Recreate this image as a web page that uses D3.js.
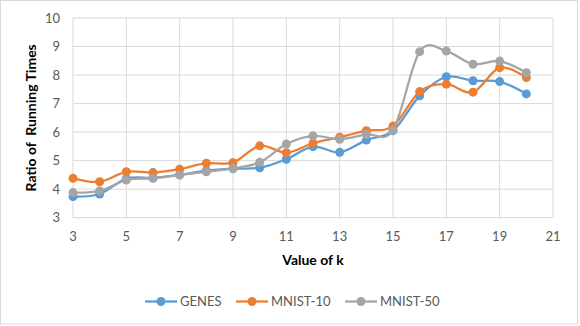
<!DOCTYPE html>
<html>
<head>
<meta charset="utf-8">
<script src="https://cdn.jsdelivr.net/npm/d3@7"></script>
<style>
  body { margin: 0; background: #fff; }
  svg { display: block; font-family: Lato, "Liberation Sans", sans-serif; }
</style>
</head>
<body>
<div id="chart"></div>
<script>
const kValues = [3, 4, 5, 6, 7, 8, 9, 10, 11, 12, 13, 14, 15, 16, 17, 18, 19, 20]
const genes = [3.74, 3.83, 4.37, 4.40, 4.50, 4.65, 4.72, 4.75, 5.05, 5.49, 5.29, 5.72, 6.05, 7.27, 7.94, 7.80, 7.77, 7.34]
const mnist10 = [4.38, 4.26, 4.61, 4.58, 4.70, 4.91, 4.93, 5.52, 5.28, 5.61, 5.82, 6.05, 6.21, 7.42, 7.68, 7.40, 8.26, 7.91]
const mnist50 = [3.88, 3.94, 4.32, 4.38, 4.50, 4.61, 4.73, 4.94, 5.58, 5.87, 5.75, 5.92, 6.07, 8.82, 8.84, 8.38, 8.49, 8.08]
const seriesNames = ['GENES', 'MNIST-10', 'MNIST-50']
const xTicks = [3, 5, 7, 9, 11, 13, 15, 17, 19, 21]
const yTicks = [3, 4, 5, 6, 7, 8, 9, 10]

const w = 580
const h = 326
const plot = { left: 73, right: 553, top: 18, bottom: 217.7 }
const colors = ['#5B9BD5', '#ED7D31', '#A5A5A5']
const textColor = '#595959'

const series = seriesNames.map((name, i) => ({
  name: name,
  color: colors[i],
  values: [genes, mnist10, mnist50][i].map((v, j) => ({ k: kValues[j], v: v }))
}))

const x = d3.scaleLinear().domain([3, 21]).range([plot.left, plot.right])
const y = d3.scaleLinear().domain([3, 10]).range([plot.bottom, plot.top])

const svg = d3.select('#chart')
  .append('svg')
  .attr('width', w)
  .attr('height', h)

// outer chart border
svg.append('rect')
  .attr('x', 0.5)
  .attr('y', 0.5)
  .attr('width', w - 3)
  .attr('height', h - 2.5)
  .attr('fill', '#fff')
  .attr('stroke', '#D9D9D9')

// gridlines
svg.append('g')
  .selectAll('line')
  .data(yTicks)
  .enter()
  .append('line')
  .attr('x1', plot.left)
  .attr('x2', plot.right)
  .attr('y1', d => y(d))
  .attr('y2', d => y(d))
  .attr('stroke', '#D9D9D9')
  .attr('stroke-width', 1)

svg.append('g')
  .selectAll('line')
  .data(xTicks)
  .enter()
  .append('line')
  .attr('x1', d => x(d))
  .attr('x2', d => x(d))
  .attr('y1', plot.top)
  .attr('y2', plot.bottom)
  .attr('stroke', '#D9D9D9')
  .attr('stroke-width', 1)

// tick labels
svg.append('g')
  .selectAll('text')
  .data(yTicks)
  .enter()
  .append('text')
  .attr('x', plot.left - 13)
  .attr('y', d => y(d))
  .attr('dy', '0.35em')
  .attr('text-anchor', 'end')
  .attr('font-size', 13)
  .attr('fill', textColor)
  .text(d => d)

svg.append('g')
  .selectAll('text')
  .data(xTicks)
  .enter()
  .append('text')
  .attr('x', d => x(d))
  .attr('y', plot.bottom + 19)
  .attr('dy', '0.35em')
  .attr('text-anchor', 'middle')
  .attr('font-size', 13)
  .attr('fill', textColor)
  .text(d => d)

// axis titles
svg.append('text')
  .attr('transform', 'translate(31,' + ((plot.top + plot.bottom) / 2) + ') rotate(-90)')
  .attr('text-anchor', 'middle')
  .attr('dy', '0.35em')
  .attr('font-size', 14)
  .attr('font-weight', 'bold')
  .attr('fill', '#000')
  .attr('xml:space', 'preserve')
  .style('white-space', 'pre')
  .text('Ratio of  Running Times')

svg.append('text')
  .attr('x', (plot.left + plot.right) / 2)
  .attr('y', 260)
  .attr('dy', '0.35em')
  .attr('text-anchor', 'middle')
  .attr('font-size', 14)
  .attr('font-weight', 'bold')
  .attr('fill', '#000')
  .text('Value of k')

// lines and markers
const line = d3.line()
  .x(d => x(d.k))
  .y(d => y(d.v))
  .curve(d3.curveCatmullRom.alpha(0))

const groups = svg.append('g')
  .selectAll('g')
  .data(series)
  .enter()
  .append('g')

groups.append('path')
  .attr('d', d => line(d.values))
  .attr('fill', 'none')
  .attr('stroke', d => d.color)
  .attr('stroke-width', 2.25)
  .attr('stroke-linejoin', 'round')

groups.selectAll('circle')
  .data(d => d.values.map(p => ({ k: p.k, v: p.v, color: d.color })))
  .enter()
  .append('circle')
  .attr('cx', d => x(d.k))
  .attr('cy', d => y(d.v))
  .attr('r', 4.5)
  .attr('fill', d => d.color)

// legend
const legendX = [145, 236, 345]
const legend = svg.append('g')
  .selectAll('g')
  .data(series)
  .enter()
  .append('g')
  .attr('transform', (d, i) => 'translate(' + legendX[i] + ', 301.5)')

legend.append('line')
  .attr('x1', 0)
  .attr('x2', 32)
  .attr('stroke', d => d.color)
  .attr('stroke-width', 2.25)

legend.append('circle')
  .attr('cx', 16)
  .attr('r', 4.5)
  .attr('fill', d => d.color)

legend.append('text')
  .attr('x', 35)
  .attr('dy', '0.35em')
  .attr('font-size', 13)
  .attr('fill', textColor)
  .text(d => d.name)
</script>
</body>
</html>
